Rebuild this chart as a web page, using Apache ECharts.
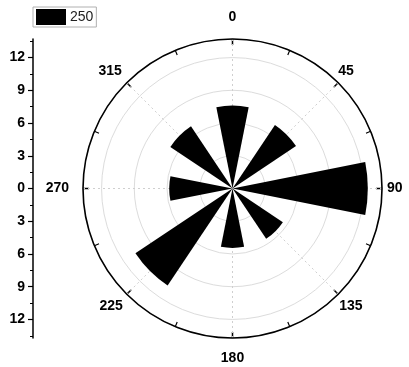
<!DOCTYPE html>
<html>
<head>
<meta charset="utf-8">
<script src="https://cdn.jsdelivr.net/npm/echarts@6/dist/echarts.min.js"></script>
<style>
  html, body { margin: 0; padding: 0; background: #fff; }
  #chart { width: 409px; height: 367px; }
</style>
</head>
<body>
<div id="chart"></div>
<script>
// Wind direction sectors (degrees) and the frequency in each sector
const directions = ['0', '45', '90', '135', '180', '225', '270', '315'];
const frequency = [7.6, 7.0, 12.4, 5.55, 5.45, 10.7, 5.8, 6.85];
const seriesName = '250';

// Radial scale shown on the left-hand ruler
const radialMax = 13.7;
const radialTicks = [-12, -9, -6, -3, 0, 3, 6, 9, 12];
const radialMinorTicks = [-13.5, -10.5, -7.5, -4.5, -1.5, 1.5, 4.5, 7.5, 10.5, 13.5];

const FONT = 'Liberation Sans, Arial, sans-serif';
const center = [232.5, 188.5];
const radius = 149.5;

// Extra spacing between the rim and each direction label [top, right, bottom, left]
const labelPadding = {
  '0':   [0, 0, 15, 0],
  '45':  [0, 0, 5, 0],
  '90':  [0, 0, 0, 5],
  '135': [5, 0, 0, 1],
  '180': [13, 0, 0, 0],
  '225': [5, 4, 0, 0],
  '270': [0, 14, 0, 0],
  '315': [0, 5, 5, 0]
};
const angleCategories = directions.map(d => ({ value: d, textStyle: { padding: labelPadding[d] } }));

const chart = echarts.init(document.getElementById('chart'), null, { renderer: 'canvas' });

chart.setOption({
  animation: false,
  backgroundColor: '#fff',
  legend: {
    data: [seriesName],
    left: 33,
    top: 7,
    padding: [2, 3, 2, 3],
    itemWidth: 30,
    itemHeight: 16,
    itemGap: 4,
    icon: 'rect',
    borderColor: '#b0b0b0',
    borderWidth: 1,
    borderRadius: 0,
    textStyle: { fontFamily: FONT, fontSize: 14, color: '#222', padding: [0, 0, 0, -1] }
  },
  polar: [
    { center: center, radius: radius },
    { center: center, radius: radius }
  ],
  angleAxis: [
    {
      polarIndex: 0,
      type: 'category',
      data: angleCategories,
      startAngle: 112.5,
      clockwise: true,
      boundaryGap: true,
      axisLine: { show: true, lineStyle: { color: '#000', width: 1.6 } },
      axisTick: { show: true, alignWithLabel: true, inside: true, length: 6, lineStyle: { color: '#000', width: 1.5 } },
      axisLabel: { show: true, margin: 0, fontFamily: FONT, fontSize: 14, fontWeight: 'bold', color: '#000' },
      splitLine: { show: true, lineStyle: { color: '#cfcfcf', width: 1, type: [2, 3] } },
      z: 0
    },
    {
      polarIndex: 1,
      type: 'category',
      data: directions,
      startAngle: 112.5,
      clockwise: true,
      boundaryGap: true,
      axisLine: { show: false },
      axisTick: { show: true, alignWithLabel: false, inside: true, length: 5, lineStyle: { color: '#000', width: 1.2 } },
      axisLabel: { show: false },
      splitLine: { show: false },
      z: 0
    }
  ],
  radiusAxis: [
    {
      polarIndex: 0,
      type: 'value',
      min: 0,
      max: radialMax,
      interval: 3,
      axisLine: { show: false },
      axisTick: { show: false },
      axisLabel: { show: false },
      splitLine: { show: true, lineStyle: { color: '#dcdcdc', width: 1 } },
      z: 0
    },
    {
      polarIndex: 1,
      type: 'value',
      min: 0,
      max: radialMax,
      axisLine: { show: false },
      axisTick: { show: false },
      axisLabel: { show: false },
      splitLine: { show: false },
      z: 0
    }
  ],
  grid: {
    left: 33,
    top: center[1] - radius,
    width: 1,
    height: radius * 2,
    containLabel: false
  },
  xAxis: {
    type: 'value',
    show: false,
    min: 0,
    max: 1
  },
  yAxis: [
    {
      type: 'value',
      min: -radialMax,
      max: radialMax,
      position: 'left',
      axisLine: { show: true, lineStyle: { color: '#000', width: 1.5 } },
      axisTick: { show: true, customValues: radialTicks, length: 5, lineStyle: { color: '#000', width: 1.2 } },
      axisLabel: {
        show: true,
        customValues: radialTicks,
        margin: 8,
        fontFamily: FONT,
        fontSize: 14,
        fontWeight: 'bold',
        color: '#000',
        formatter: v => String(Math.abs(v))
      },
      splitLine: { show: false }
    },
    {
      type: 'value',
      min: -radialMax,
      max: radialMax,
      position: 'left',
      axisLine: { show: false },
      axisTick: { show: true, customValues: radialMinorTicks, length: 3, lineStyle: { color: '#000', width: 1 } },
      axisLabel: { show: false },
      splitLine: { show: false }
    }
  ],
  series: [
    {
      name: seriesName,
      type: 'bar',
      coordinateSystem: 'polar',
      polarIndex: 0,
      data: frequency,
      barCategoryGap: '50%',
      itemStyle: { color: '#000' },
      z: 5
    }
  ]
});
</script>
</body>
</html>
